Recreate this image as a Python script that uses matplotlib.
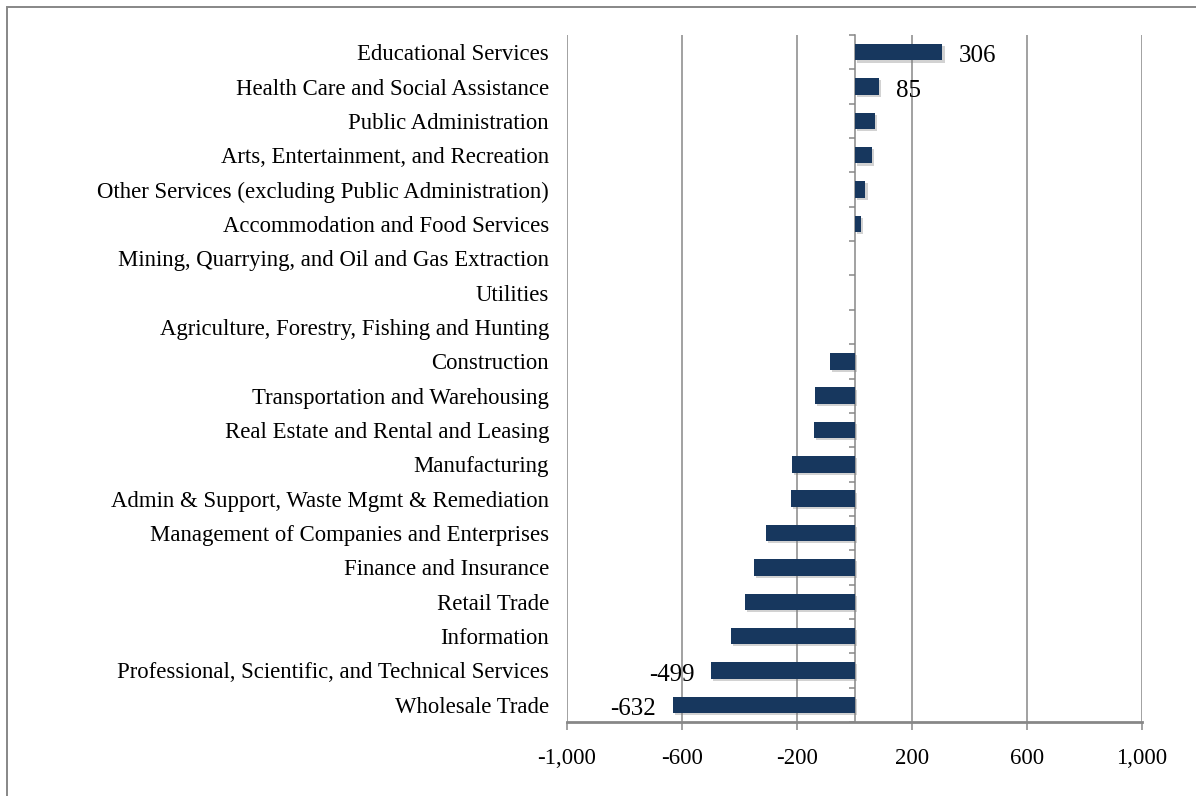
import matplotlib
matplotlib.use("Agg")
import matplotlib.pyplot as plt
import matplotlib.patheffects as pe
from matplotlib.patches import Rectangle
from matplotlib.ticker import FuncFormatter
import numpy as np

plt.rcParams['font.family'] = ['Liberation Serif', 'DejaVu Serif']

industries = [
    "Educational Services",
    "Health Care and Social Assistance",
    "Public Administration",
    "Arts, Entertainment, and Recreation",
    "Other Services (excluding Public Administration)",
    "Accommodation and Food Services",
    "Mining, Quarrying, and Oil and Gas Extraction",
    "Utilities",
    "Agriculture, Forestry, Fishing and Hunting",
    "Construction",
    "Transportation and Warehousing",
    "Real Estate and Rental and Leasing",
    "Manufacturing",
    "Admin & Support, Waste Mgmt & Remediation",
    "Management of Companies and Enterprises",
    "Finance and Insurance",
    "Retail Trade",
    "Information",
    "Professional, Scientific, and Technical Services",
    "Wholesale Trade",
]
changes = [306, 85, 72, 60, 38, 22, 0, 0, 0, -85, -137, -141, -218, -222,
           -307, -349, -381, -431, -499, -632]
labelled = {"Educational Services", "Health Care and Social Assistance",
            "Professional, Scientific, and Technical Services", "Wholesale Trade"}
x_ticks = [-1000, -600, -200, 200, 600, 1000]

bar_color = "#17375E"
line_color = "#878787"

fig = plt.figure(figsize=(11.96, 7.96), dpi=100)
ax = fig.add_axes([567 / 1196, 1 - 722 / 796, 575 / 1196, 687 / 796])

n = len(industries)
ypos = np.arange(n)[::-1]

shadow = [pe.SimplePatchShadow(offset=(1.5, -1.5), shadow_rgbFace="#7f7f7f", alpha=0.35),
          pe.Normal()]
bars = ax.barh(ypos, changes, height=0.48, color=bar_color, zorder=3)
for b in bars:
    b.set_path_effects(shadow)

for name, v, y in zip(industries, changes, ypos):
    if name in labelled:
        off = 12 if v > 0 else -12
        ax.annotate(f"{v:,}", xy=(v, y), xytext=(off, -3), textcoords="offset points",
                    ha="left" if v > 0 else "right", va="center", fontsize=18,
                    color="black", zorder=4)

ax.set_xlim(-1000, 1000)
ax.set_ylim(-0.5, n - 0.5)
ax.set_xticks(x_ticks)
ax.xaxis.set_major_formatter(FuncFormatter(lambda v, p: f"{int(v):,}"))
ax.tick_params(axis="x", direction="out", length=6, width=1.1, color=line_color,
               labelsize=16.5, pad=13)
ax.grid(axis="x", color=line_color, linewidth=1.1, zorder=0)

# category labels at the left, tick marks on the zero line
ax.set_yticks(ypos)
ax.set_yticklabels(industries)
ax.set_yticks(np.arange(-0.5, n, 1.0), minor=True)
ax.tick_params(axis="y", which="major", length=0, pad=13, left=True, right=False,
               labelsize=16.4)
ax.tick_params(axis="y", which="minor", left=False, right=True, direction="in",
               length=4, width=1.1, color=line_color)

for s in ["top", "left"]:
    ax.spines[s].set_visible(False)
ax.spines["right"].set_position(("data", 0))
ax.spines["right"].set_color(line_color)
ax.spines["right"].set_linewidth(1.1)
ax.spines["right"].set_zorder(2.5)
ax.spines["bottom"].set_color(line_color)
ax.spines["bottom"].set_linewidth(2)

# outer frame
fig.add_artist(Rectangle((6.5 / 1196, -0.05), 1.2, 1.05 - 6.5 / 796,
                         transform=fig.transFigure, fill=False,
                         edgecolor=line_color, linewidth=1.4))

fig.savefig("out.png", dpi=100)
